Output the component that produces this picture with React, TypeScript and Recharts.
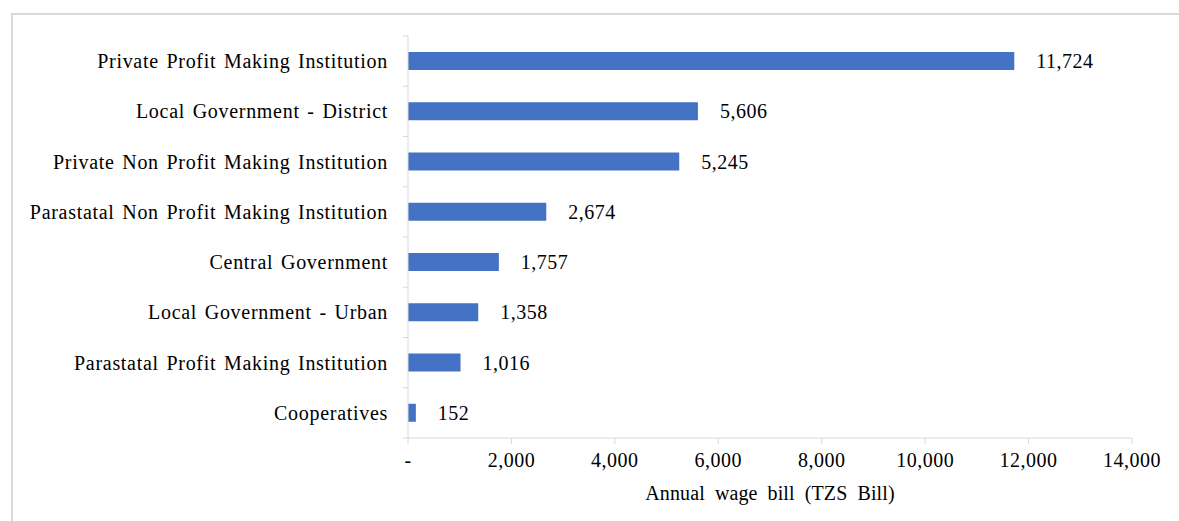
import { Bar, BarChart, LabelList, XAxis, YAxis, Label } from "recharts"

const categories = [
    "Private Profit Making Institution",
    "Local Government - District",
    "Private Non Profit Making Institution",
    "Parastatal Non Profit Making Institution",
    "Central Government",
    "Local Government - Urban",
    "Parastatal Profit Making Institution",
    "Cooperatives",
]

const wageBill = [11724, 5606, 5245, 2674, 1757, 1358, 1016, 152]

const xTicks = [0, 2000, 4000, 6000, 8000, 10000, 12000, 14000]

const data = categories.map((name, i) => ({ name, value: wageBill[i] }))

const FONT = "'Liberation Serif', 'Times New Roman', serif"
const AXIS_COLOR = "#d9d9d9"
const TOP = 36
const PLOT_BOTTOM = 438
const BAND = (PLOT_BOTTOM - TOP) / categories.length

const fmt = (v: number) => (v === 0 ? "-" : v.toLocaleString("en-US"))

function CategoryTick(props: any) {
    const { x, y, payload, index } = props
    const last = index === categories.length - 1
    return (
        <g>
            <line x1={x + 3} x2={x + 8} y1={y - BAND / 2} y2={y - BAND / 2} stroke={AXIS_COLOR} />
            {last && (
                <line x1={x + 3} x2={x + 8} y1={y + BAND / 2} y2={y + BAND / 2} stroke={AXIS_COLOR} />
            )}
            <text
                x={x - 12}
                y={y}
                dy="0.35em"
                textAnchor="end"
                fontSize={20}
                fontFamily={FONT}
                fill="#000"
                style={{ letterSpacing: 0.7, wordSpacing: 2 }}
            >
                {payload.value}
            </text>
        </g>
    )
}

export default function App() {
    return (
        <div style={{ position: "absolute", left: 0, top: 0, width: 1179, height: 521, background: "#fff", overflow: "hidden" }}>
            <div
                style={{
                    position: "absolute",
                    left: 11,
                    top: 13,
                    width: 1300,
                    height: 600,
                    border: `2px solid ${AXIS_COLOR}`,
                    boxSizing: "border-box",
                }}
            />
            <div style={{ position: "absolute", left: 0, top: 0 }}>
                <BarChart
                    width={1179}
                    height={521}
                    data={data}
                    layout="vertical"
                    margin={{ top: TOP, right: 47, bottom: 0, left: 0 }}
                    barCategoryGap={0}
                >
                    <XAxis
                        type="number"
                        domain={[0, 14000]}
                        ticks={xTicks}
                        tickFormatter={fmt}
                        axisLine={{ stroke: AXIS_COLOR }}
                        tickLine={{ stroke: AXIS_COLOR }}
                        tickSize={6}
                        tickMargin={9}
                        height={521 - PLOT_BOTTOM}
                        tick={{ fill: "#000", fontSize: 20, fontFamily: FONT, style: { letterSpacing: 0.5 } }}
                        interval={0}
                    >
                        <Label
                            value="Annual wage bill (TZS Bill)"
                            position="insideBottom"
                            offset={21}
                            fill="#000"
                            fontSize={20}
                            fontFamily={FONT}
                            style={{ wordSpacing: 5, letterSpacing: 0.1 }}
                        />
                    </XAxis>
                    <YAxis
                        type="category"
                        dataKey="name"
                        width={408}
                        axisLine={{ stroke: AXIS_COLOR }}
                        tickLine={false}
                        tick={<CategoryTick />}
                        interval={0}
                    />
                    <Bar dataKey="value" fill="#4472C4" barSize={18} isAnimationActive={false}>
                        <LabelList
                            dataKey="value"
                            position="right"
                            offset={22}
                            formatter={(v: any) => Number(v).toLocaleString("en-US")}
                            fill="#000"
                            fontSize={20}
                            fontFamily={FONT}
                            style={{ letterSpacing: 0.5 }}
                        />
                    </Bar>
                </BarChart>
            </div>
        </div>
    )
}
